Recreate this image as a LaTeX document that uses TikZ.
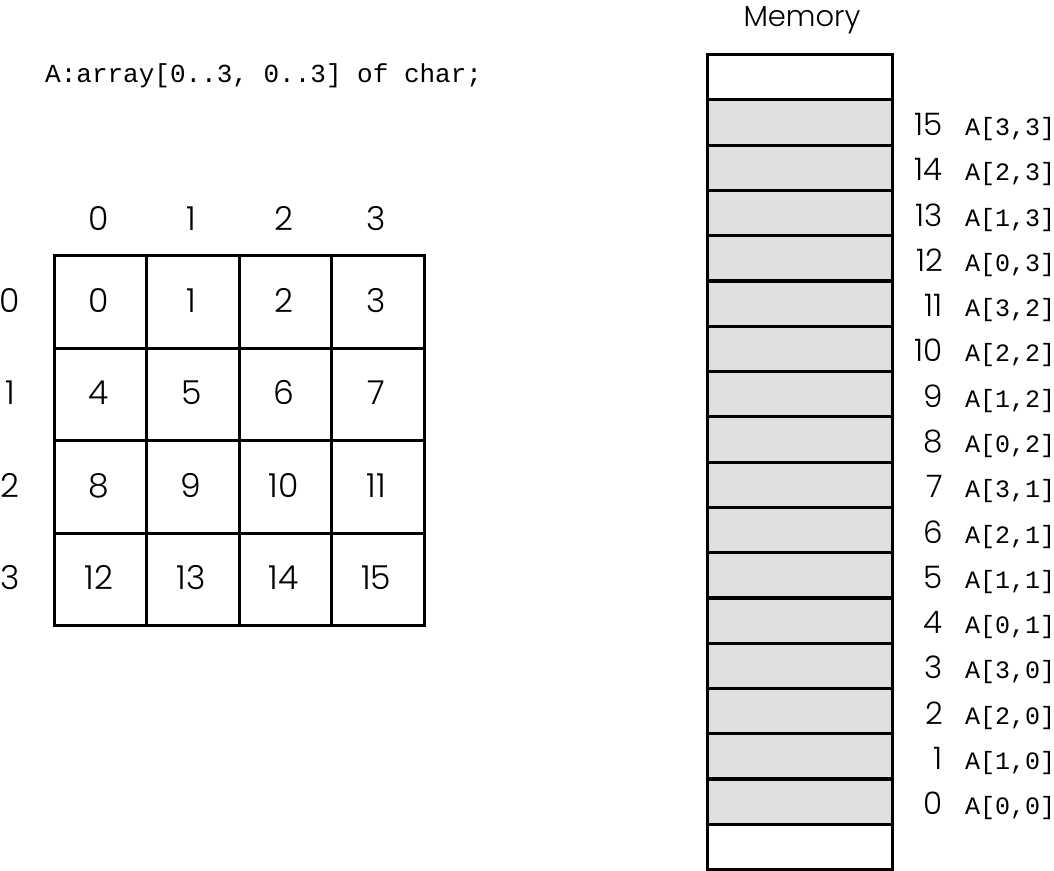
\documentclass[tikz,border=0pt]{standalone}
\usepackage{fontspec}
\setmainfont{Poppins}[UprightFont={* Light}]
\setmonofont{Liberation Mono}
\definecolor{memgray}{HTML}{DEDFE1}
\begin{document}
\begin{tikzpicture}[x=1pt,y=-1pt,
  cell/.style={draw,line width=3pt,minimum width=92.5pt,minimum height=92.5pt,inner sep=0pt,anchor=north west},
  num/.style={font=\fontsize{33}{36}\selectfont,anchor=base,inner sep=0pt},
  mem/.style={draw,line width=3.2pt,fill=memgray,minimum width=185pt,minimum height=45.28pt,inner sep=0pt,anchor=north west},
  memw/.style={mem,fill=white},
  addr/.style={font=\fontsize{31}{34}\selectfont,anchor=base east,inner sep=0pt},
  elem/.style={font=\ttfamily\fontsize{25}{30}\selectfont,anchor=base west,inner sep=0pt}]
\useasboundingbox (0,0) rectangle (1054,870);
% declaration
\node[font=\ttfamily\fontsize{26}{30}\selectfont,anchor=base west,inner sep=0pt] (decl) at (45,82) {A:array[0..3, 0..3] of char;};
% grid
\foreach \r in {0,...,3}{
  \foreach \c in {0,...,3}{
    \pgfmathtruncatemacro{\n}{4*\r+\c}
    \node[cell] (g\n) at ({52.5+92.5*\c},{254+92.5*\r}) {};
    \node[num] (t\n) at ({52.5+92.5*\c+46.25},{254+92.5*\r+58}) {\n};
  }
}
\foreach \c in {0,...,3}{
  \node[num] (col\c) at ({52.5+92.5*\c+46.25},230) {\c};
}
\foreach \r in {0,...,3}{
  \node[num] (row\r) at (10,{254+92.5*\r+58}) {\r};
}
% memory
\node[font=\fontsize{29}{32}\selectfont,anchor=base,inner sep=0pt] (memtitle) at (802,26) {Memory};
\node[memw] (mtop) at (706,53) {};
\foreach \k in {15,14,...,0}{
  \pgfmathtruncatemacro{\j}{16-\k}
  \pgfmathtruncatemacro{\rr}{mod(\k,4)}
  \pgfmathtruncatemacro{\cc}{int(\k/4)}
  \node[mem] (m\k) at (706,{53+45.28*\j}) {};
  \node[addr] (a\k) at (943,{53+45.28*(\j+1)-8}) {\k};
  \node[elem] (e\k) at (965,{53+45.28*(\j+1)-8}) {A[\rr,\cc]};
}
\node[memw] (mbot) at (706,{53+45.28*17}) {};
\end{tikzpicture}
\end{document}
